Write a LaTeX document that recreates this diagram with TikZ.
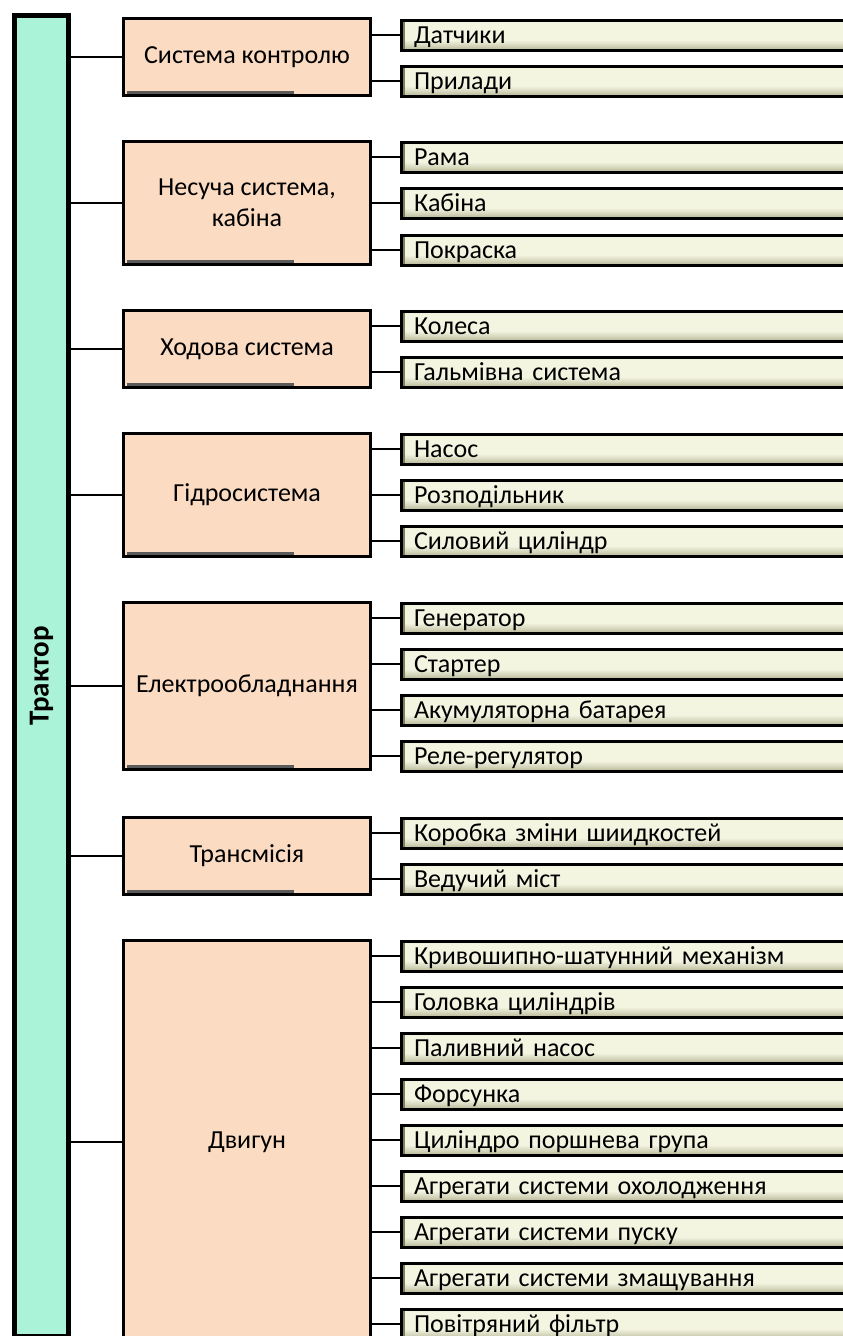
\documentclass[tikz,border=0pt]{standalone}
\usepackage{fontspec}
\setmainfont{Carlito}
\usetikzlibrary{positioning}
\definecolor{barfill}{HTML}{AAF3D8}
\definecolor{grpfill}{HTML}{FBDCC3}
\definecolor{partlight}{HTML}{F4F5E1}
\definecolor{partdark}{HTML}{B5B695}
\definecolor{partedge}{HTML}{7E7F5E}
\definecolor{shadowgray}{HTML}{5A5A5A}
\pgfdeclareverticalshading{partshade}{100bp}{color(0bp)=(partdark); color(25bp)=(partdark);
	color(32bp)=(partdark!55!partlight); color(42bp)=(partlight); color(70bp)=(partlight);
	color(75bp)=(partlight!85!partdark); color(100bp)=(partlight!85!partdark)}
\tikzset{
	mainbar/.style={draw=black,line width=5pt,fill=barfill,inner sep=0pt},
	grpbox/.style={draw=black,line width=3pt,fill=grpfill,minimum width=247pt,
		align=center,inner sep=0pt,font=\fontsize{26}{31}\selectfont,
		path picture={\fill[shadowgray] ([xshift=3pt,yshift=1.5pt]path picture bounding box.south west)
			rectangle ([xshift=170pt,yshift=5pt]path picture bounding box.south west);}},
	partbox/.style={draw=black,line width=3pt,shading=partshade,
		anchor=west,minimum width=470pt,minimum height=30pt,text width=444pt,align=left,
		text height=19pt,text depth=3pt,
		inner xsep=13pt,inner ysep=0pt,font=\fontsize{26}{30}\selectfont,
		path picture={\fill[partedge] (path picture bounding box.north west) rectangle ([xshift=4pt]path picture bounding box.south west);}},
	link/.style={draw=black,line width=1.3pt}
}
\begin{document}
\begin{tikzpicture}[x=1pt,y=-1pt]
	% page
	\useasboundingbox (0,0) rectangle (843,1336);
	\clip (0,0) rectangle (843,1336);
	\fill[white] (0,0) rectangle (843,1336);
	% Bar for the whole machine
	\node[mainbar,minimum width=54pt,minimum height=1321pt] (trak) at (41.5,676)
		{\rotatebox{90}{\fontsize{29}{32}\selectfont\bfseries Трактор}};
	% Systems
	\node[grpbox,minimum height=77pt] (kontrol) at (247,57) {Система контролю};
	\node[grpbox,minimum height=123pt] (nesucha) at (247,203) {Несуча система,\\кабіна};
	\node[grpbox,minimum height=77pt] (khodova) at (247,349) {Ходова система};
	\node[grpbox,minimum height=123pt] (hidro) at (247,495) {Гідросистема};
	\node[grpbox,minimum height=167pt] (elektro) at (247,686) {Електрообладнання};
	\node[grpbox,minimum height=77pt] (transm) at (247,856) {Трансмісія};
	\node[grpbox,minimum height=403pt] (dvyhun) at (247,1142) {Двигун};
	% Links from bar to systems
	\foreach \g in {kontrol,nesucha,khodova,hidro,elektro,transm,dvyhun}
		\draw[link] (trak.east |- \g.west) -- (\g.west);
	% Parts of every system
	\foreach \yy/\txt/\g [count=\i] in {
		35/Датчики/kontrol, 81/Прилади/kontrol,
		157/Рама/nesucha, 203/Кабіна/nesucha, 250/Покраска/nesucha,
		326/Колеса/khodova, 372/Гальмівна система/khodova,
		449/Насос/hidro, 495/Розподільник/hidro, 541/Силовий циліндр/hidro,
		618/Генератор/elektro, 664/Стартер/elektro, 710/Акумуляторна батарея/elektro, 756/Реле-регулятор/elektro,
		833/Коробка зміни шиидкостей/transm, 879/Ведучий міст/transm,
		956/Кривошипно-шатунний механізм/dvyhun, 1002/Головка циліндрів/dvyhun, 1048/Паливний насос/dvyhun,
		1094/Форсунка/dvyhun, 1140/Циліндро поршнева група/dvyhun, 1186/Агрегати системи охолодження/dvyhun,
		1232/Агрегати системи пуску/dvyhun, 1278/Агрегати системи змащування/dvyhun, 1324/Повітряний фільтр/dvyhun}{
		\node[partbox] (part\i) at (399.5,\yy) {\txt};
		\draw[link] (\g.east |- part\i.west) -- (part\i.west);
	}
\end{tikzpicture}
\end{document}
